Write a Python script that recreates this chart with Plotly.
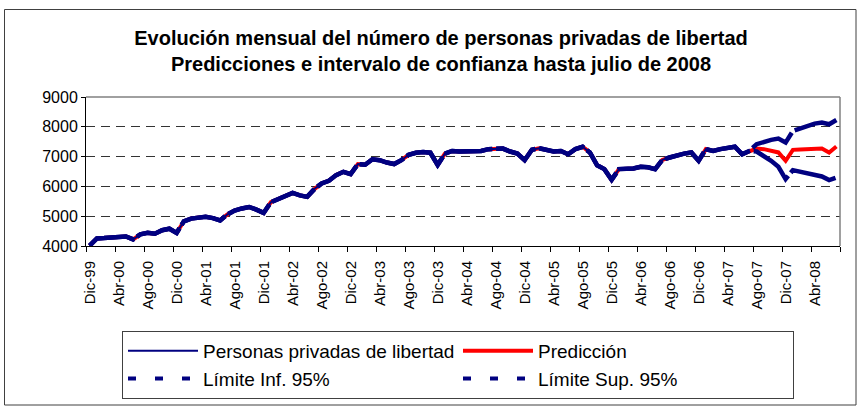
import plotly.graph_objects as go

# ---- tick labels / categories (Spanish month abbreviations) ----
meses = ["Ene", "Feb", "Mar", "Abr", "May", "Jun", "Jul", "Ago", "Sep", "Oct", "Nov", "Dic"]
periodos = ["Dic-99"] + [f"{m}-{a:02d}" for a in range(0, 8) for m in meses] + [f"{m}-08" for m in meses[:7]]

# ---- observed series: Dic-99 .. Jul-07 ----
personas = [
    4010, 4255, 4265, 4280, 4290, 4320, 4220, 4390, 4440, 4410, 4530, 4580,
    4440, 4830, 4920, 4945, 4980, 4935, 4860, 5060, 5190, 5260, 5310, 5220,
    5110, 5470, 5580, 5700, 5780, 5700, 5650, 5910, 6100, 6190, 6380, 6490,
    6410, 6750, 6725, 6910, 6880, 6800, 6750, 6880, 7060, 7130, 7150, 7130,
    6720, 7100, 7190, 7170, 7170, 7190, 7190, 7250, 7270, 7270, 7170, 7100,
    6880, 7230, 7280, 7230, 7170, 7190, 7080, 7250, 7330, 7140, 6710, 6580,
    6220, 6580, 6580, 6600, 6660, 6640, 6580, 6890, 6970, 7050, 7100, 7140,
    6860, 7250, 7190, 7250, 7300, 7330, 7080, 7190,
]

# ---- forecasts: Ago-07 .. Jul-08 ----
prediccion_fut = [7270, 7250, 7190, 7140, 6860, 7226, 7237, 7250, 7260, 7270, 7137, 7338]
limite_inf_fut = [7170, 7025, 6857, 6658, 6245, 6546, 6490, 6446, 6380, 6334, 6212, 6300]
limite_sup_fut = [7416, 7505, 7560, 7605, 7470, 7862, 7940, 8030, 8107, 8140, 8085, 8230]

prediccion = personas + prediccion_fut
limite_inf = personas + limite_inf_fut
limite_sup = personas + limite_sup_fut

y_ticks = [4000, 5000, 6000, 7000, 8000, 9000]

NAVY = "#000080"
RED = "#FF0000"
FONT = "Arial, Liberation Sans, sans-serif"
PLOT_DASH = "48px,4px"

fig = go.Figure()

# data marks (drawn order: red, limits, observed on top)
fig.add_trace(go.Scatter(x=periodos, y=prediccion, mode="lines",
                         line=dict(color=RED, width=4), showlegend=False, hoverinfo="skip"))
fig.add_trace(go.Scatter(x=periodos, y=limite_inf, mode="lines",
                         line=dict(color=NAVY, width=4.5, dash=PLOT_DASH), showlegend=False))
fig.add_trace(go.Scatter(x=periodos, y=limite_sup, mode="lines",
                         line=dict(color=NAVY, width=4.5, dash=PLOT_DASH), showlegend=False))
fig.add_trace(go.Scatter(x=periodos[:len(personas)], y=personas, mode="lines",
                         line=dict(color=NAVY, width=2), showlegend=False))

# legend entries
legend_items = [
    ("Personas privadas de libertad", dict(color=NAVY, width=2)),
    ("Predicción", dict(color=RED, width=4)),
    ("Límite Inf. 95%", dict(color=NAVY, width=4, dash="8px,19px")),
    ("Límite Sup. 95%", dict(color=NAVY, width=4, dash="8px,19px")),
]
for name, ln in legend_items:
    fig.add_trace(go.Scatter(x=[None], y=[None], mode="lines", name=name, line=ln))

W, H = 860, 408
L, R, T, B = 86, 20, 97, 162
pw, ph = W - L - R, H - T - B

def px_x(p):
    return (p - L) / pw

def px_y(p):
    return (H - B - p) / ph

fig.update_layout(
    width=W, height=H,
    margin=dict(l=L, r=R, t=T, b=B, pad=0, autoexpand=False),
    paper_bgcolor="white", plot_bgcolor="white",
    font=dict(family=FONT, color="black"),
    title=dict(
        text="<b>Evolución mensual del número de personas privadas de libertad<br>"
             "Predicciones e intervalo de confianza hasta julio de 2008</b>",
        font=dict(size=20, family=FONT, color="black"),
        x=441 / W, xref="container", xanchor="center",
        y=1 - 45 / H, yref="container", yanchor="top",
    ),
    xaxis=dict(
        type="category", range=[-0.5, len(periodos) - 0.5], automargin=False,
        tickmode="linear", tick0=0, dtick=4, tickson="boundaries",
        ticks="outside", ticklen=5, tickcolor="black", tickwidth=1,
        tickangle=-90, tickfont=dict(size=15, family=FONT, color="black"),
        ticklabelstandoff=8,
        showline=True, linecolor="black", linewidth=1,
        showgrid=False, zeroline=False,
    ),
    yaxis=dict(
        range=[4000, 9000], tickvals=y_ticks, ticktext=[str(v) for v in y_ticks],
        automargin=False,
        ticks="outside", ticklen=4, tickcolor="black",
        tickfont=dict(size=16, family=FONT, color="black"),
        showline=True, linecolor="black", linewidth=1,
        showgrid=True, gridcolor="#333333", gridwidth=1, griddash="9px,6px",
        zeroline=False,
    ),
    legend=dict(
        orientation="h", x=px_x(122), xanchor="left", y=px_y(331), yanchor="top",
        bordercolor="#404040", borderwidth=1, bgcolor="white",
        font=dict(size=19, family=FONT, color="black"),
        entrywidth=250, entrywidthmode="pixels", itemwidth=70,
        tracegroupgap=0,
    ),
    shapes=[
        # plot-area border (top and right, grey)
        dict(type="line", xref="paper", yref="paper", x0=0, x1=1, y0=1, y1=1,
             line=dict(color="#808080", width=1.5)),
        dict(type="line", xref="paper", yref="paper", x0=1, x1=1, y0=0, y1=1,
             line=dict(color="#808080", width=1.5)),
        # chart frame
        dict(type="rect", xref="paper", yref="paper",
             x0=px_x(4.5), x1=px_x(856), y0=px_y(405), y1=px_y(9.5),
             line=dict(color="#404040", width=1)),
    ],
)

fig.write_html("out.html", config={"displayModeBar": False},
               post_script="document.body.style.margin='0px';")
